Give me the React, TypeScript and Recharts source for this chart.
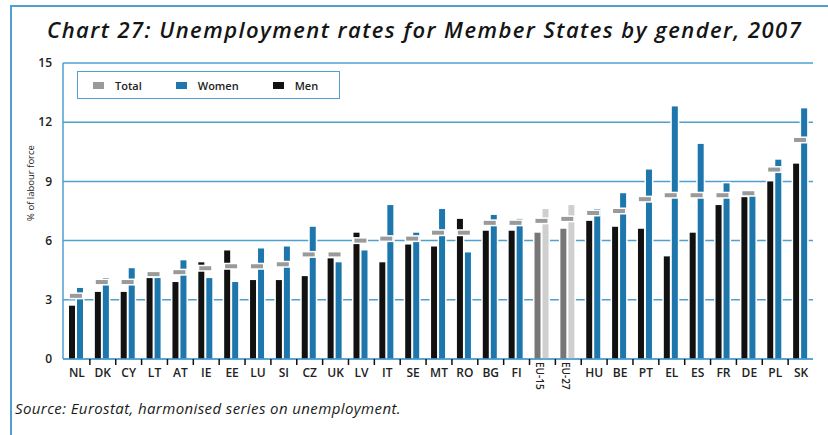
import React from 'react';
import { ComposedChart, Bar, Scatter, XAxis, YAxis, CartesianGrid } from 'recharts';

const categories = ['NL', 'DK', 'CY', 'LT', 'AT', 'IE', 'EE', 'LU', 'SI', 'CZ', 'UK', 'LV', 'IT', 'SE', 'MT', 'RO', 'BG', 'FI', 'EU-15', 'EU-27', 'HU', 'BE', 'PT', 'EL', 'ES', 'FR', 'DE', 'PL', 'SK'];
const men = [2.7, 3.4, 3.4, 4.1, 3.9, 4.9, 5.5, 4.0, 4.0, 4.2, 5.1, 6.4, 4.9, 5.8, 5.7, 7.1, 6.5, 6.5, 6.4, 6.6, 7.0, 6.7, 6.6, 5.2, 6.4, 7.8, 8.2, 9.0, 9.9];
const women = [3.6, 4.1, 4.6, 4.1, 5.0, 4.1, 3.9, 5.6, 5.7, 6.7, 4.9, 5.5, 7.8, 6.4, 7.6, 5.4, 7.3, 7.1, 7.6, 7.8, 7.6, 8.4, 9.6, 12.8, 10.9, 8.9, 8.3, 10.1, 12.7];
const total = [3.2, 3.9, 3.9, 4.3, 4.4, 4.6, 4.7, 4.7, 4.8, 5.3, 5.3, 6.0, 6.1, 6.1, 6.4, 6.4, 6.9, 6.9, 7.0, 7.1, 7.4, 7.5, 8.1, 8.3, 8.3, 8.3, 8.4, 9.6, 11.1];
const aggregates = ['EU-15', 'EU-27'];
const yTicks = [0, 3, 6, 9, 12, 15];

const data = categories.map((name, i) => ({ name, men: men[i], women: women[i], total: total[i] }));

const BLUE = '#1d77ad';
const GRID = '#4f9fcf';
const FONT = '"Open Sans", sans-serif';

const W = 828;
const H = 400;
const M = { top: 63, right: 15, bottom: 11, left: 13 };
const Y_W = 50;
const STEP = (W - M.left - Y_W - M.right) / categories.length;

const barShape = (color: string, euColor: string) => (props: any) => {
  const { x, y, width, height, payload } = props;
  if (!height || height <= 0) return <g />;
  const fill = aggregates.includes(payload.name) ? euColor : color;
  return (
    <g>
      <rect x={x - 1.5} y={y - 1.5} width={width + 3} height={height} fill="#fff" />
      <rect x={x} y={y} width={width} height={height} fill={fill} />
    </g>
  );
};

const TotalMark = (props: any) => {
  const { cx, cy } = props;
  return (
    <g>
      <rect x={cx - 7.5} y={cy - 3.5} width={15} height={7} fill="#fff" />
      <rect x={cx - 6} y={cy - 2} width={12} height={4} fill="#9a9a9a" />
    </g>
  );
};

const CountryTick = (props: any) => {
  const { x, y, payload, index } = props;
  const label = payload.value;
  const last = index === categories.length - 1;
  return (
    <g>
      {!last && <line x1={x + STEP / 2 + 1} x2={x + STEP / 2 + 1} y1={y} y2={y + 6} stroke="#111" strokeWidth={1.5} />}
      {aggregates.includes(label) ? (
        <text x={x - 5} y={y + 3} transform={`rotate(90 ${x - 5} ${y + 3})`} fontSize={10} fontWeight={600} fill="#222" fontFamily={FONT}>
          {label}
        </text>
      ) : (
        <text x={x + 1} y={y + 18} textAnchor="middle" fontSize={12} fontWeight={600} fill="#222" fontFamily={FONT}>
          {label}
        </text>
      )}
    </g>
  );
};

const legendItems = [
  { label: 'Total', color: '#9a9a9a' },
  { label: 'Women', color: BLUE },
  { label: 'Men', color: '#111' },
];

const LegendBox = () => (
  <div style={{ position: 'absolute', left: 77, top: 71, width: 263, height: 28, border: `1.5px solid ${GRID}`, display: 'flex', alignItems: 'center', paddingLeft: 15, boxSizing: 'border-box', fontFamily: FONT }}>
    {legendItems.map((it) => (
      <div key={it.label} style={{ display: 'flex', alignItems: 'center', marginRight: 34 }}>
        <span style={{ width: 11, height: 7, background: it.color, display: 'inline-block', marginRight: 11 }} />
        <span style={{ fontSize: 11, fontWeight: 600, color: '#222' }}>{it.label}</span>
      </div>
    ))}
  </div>
);

export default function App() {
  return (
    <div style={{ position: 'absolute', left: 0, top: 0, width: W, height: 435, background: '#fff', overflow: 'hidden', fontFamily: FONT }}>
      <div style={{ position: 'absolute', left: 10, top: 5, width: W, height: 440, borderTop: `2px solid ${GRID}`, borderLeft: `2px solid ${GRID}` }} />
      <div style={{ position: 'absolute', left: 47, top: 14, fontSize: 22, fontWeight: 600, letterSpacing: 1.45, fontStyle: 'italic', color: '#151515', whiteSpace: 'nowrap' }}>
        Chart 27: Unemployment rates for Member States by gender, 2007
      </div>
      <div style={{ position: 'absolute', left: 0, top: 0 }}>
        <ComposedChart width={W} height={H} data={data} margin={M} barSize={6} barGap={2}>
          <CartesianGrid vertical={false} stroke={GRID} strokeWidth={1.5} />
          <XAxis dataKey="name" interval={0} tickLine={false} tickSize={0} tickMargin={0} height={30} axisLine={{ stroke: GRID, strokeWidth: 1.5 }} tick={<CountryTick />} />
          <YAxis
            domain={[0, 15]}
            ticks={yTicks}
            width={Y_W}
            tickLine={false}
            tickMargin={5}
            axisLine={{ stroke: GRID, strokeWidth: 1.5 }}
            tick={{ fontSize: 12, fontWeight: 600, fill: '#222', fontFamily: FONT }}
            label={{
              content: () => (
                <text x={34} y={183} transform="rotate(-90 34 183)" textAnchor="middle" fontSize={9.5} fill="#222" fontFamily={FONT}>
                  % of labour force
                </text>
              ),
            }}
          />
          <YAxis yAxisId="right" orientation="right" domain={[0, 15]} width={0} tick={false} tickLine={false} axisLine={{ stroke: GRID, strokeWidth: 1.5 }} />
          <Bar dataKey="men" name="Men" fill="#111" shape={barShape('#111', '#777')} isAnimationActive={false} />
          <Bar dataKey="women" name="Women" fill={BLUE} shape={barShape(BLUE, '#cfcfcf')} isAnimationActive={false} />
          <Scatter dataKey="total" name="Total" fill="#9a9a9a" shape={<TotalMark />} isAnimationActive={false} />
        </ComposedChart>
      </div>
      <LegendBox />
      <div style={{ position: 'absolute', left: 15, top: 398, fontSize: 15, letterSpacing: 0.4, fontStyle: 'italic', color: '#1a1a1a', whiteSpace: 'nowrap' }}>
        Source: Eurostat, harmonised series on unemployment.
      </div>
    </div>
  );
}
